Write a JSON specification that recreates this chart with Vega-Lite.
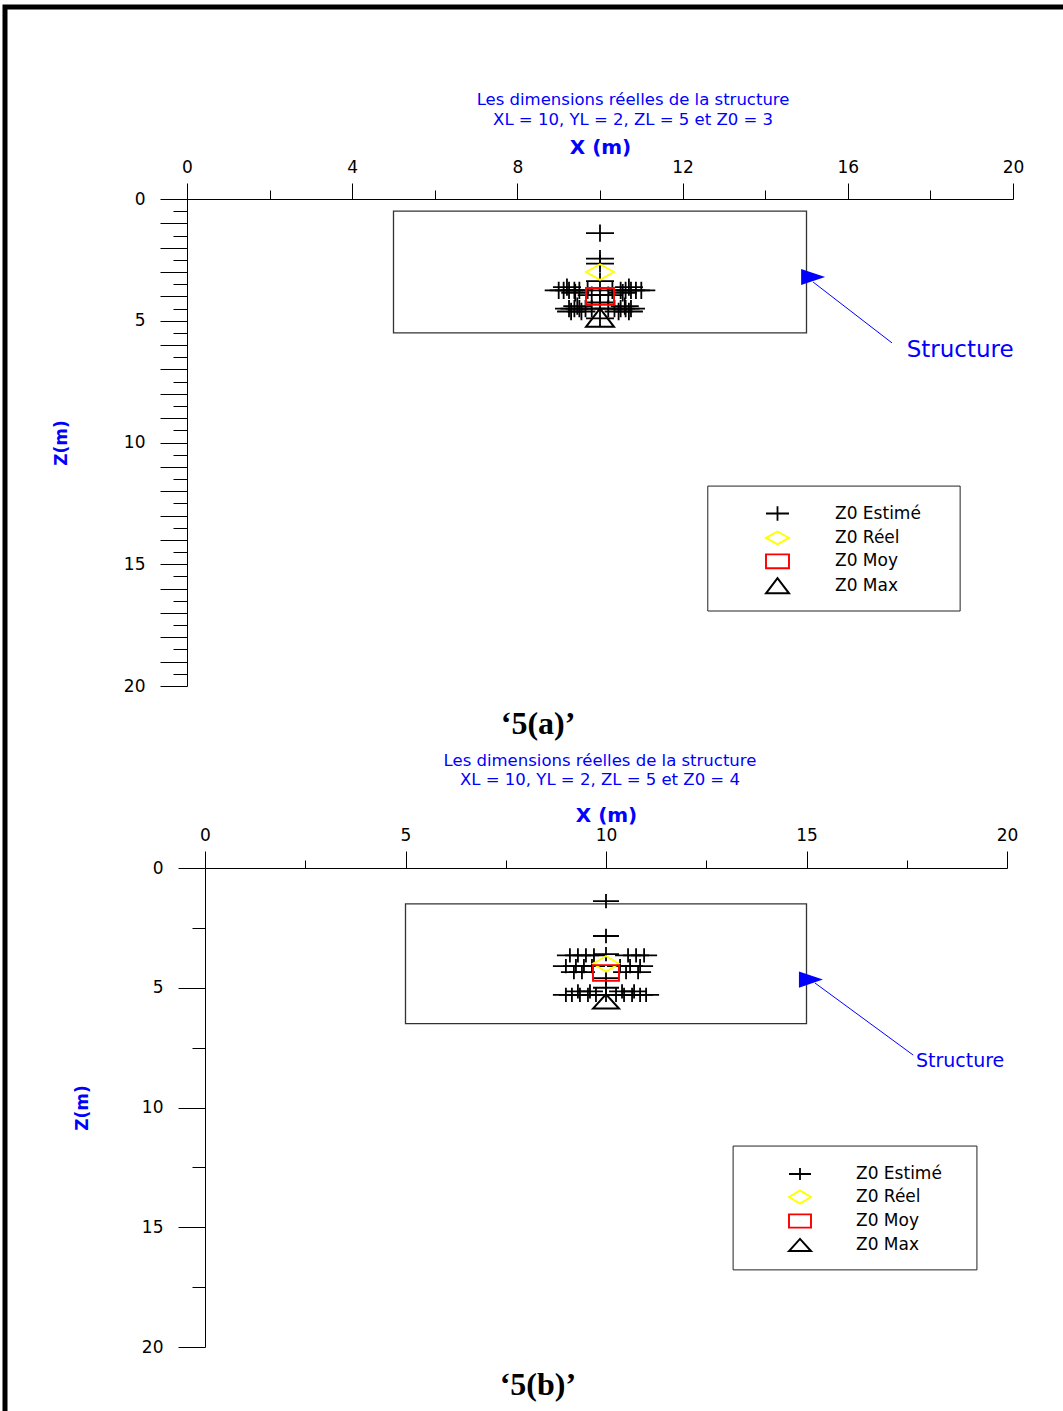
{
"$schema": "https://vega.github.io/schema/vega-lite/v6.json",
"width": 1058,
"height": 1404,
"autosize": {"type": "none"},
"padding": {"left": 5, "top": 7, "right": 0, "bottom": 0},
"background": "white",
"config": {
  "view": {"stroke": "black", "strokeWidth": 5, "strokeDash": [1058, 2462, 1404]},
  "axis": {"grid": false, "domainColor": "black", "tickColor": "black", "labelColor": "black", "labelFont": "DejaVu Sans", "titleFont": "DejaVu Sans", "labelFlush": false, "labelOverlap": false},
  "text": {"font": "DejaVu Sans"}
},
"datasets": {
  "a_struct": [{"x": 5, "x2": 15, "z": 0.5, "z2": 5.5}],
  "b_struct": [{"x": 5, "x2": 15, "z": 1.5, "z2": 6.5}],
  "a_pts": [
    {"serie": "Z0 Estimé", "x": 10, "z": 1.4},
    {"serie": "Z0 Estimé", "x": 10, "z": 2.45},
    {"serie": "Z0 Estimé", "x": 10, "z": 2.65},
    {"serie": "Z0 Estimé", "x": 10, "z": 3.37},
    {"serie": "Z0 Estimé", "x": 10, "z": 3.95},
    {"serie": "Z0 Estimé", "x": 10, "z": 4.25},
    {"serie": "Z0 Estimé", "x": 10, "z": 4.9},
    {"serie": "Z0 Estimé", "x": 9.0, "z": 3.75},
    {"serie": "Z0 Estimé", "x": 9.12, "z": 3.75},
    {"serie": "Z0 Estimé", "x": 9.25, "z": 3.75},
    {"serie": "Z0 Estimé", "x": 9.38, "z": 3.75},
    {"serie": "Z0 Estimé", "x": 9.5, "z": 3.75},
    {"serie": "Z0 Estimé", "x": 9.7, "z": 3.75},
    {"serie": "Z0 Estimé", "x": 10.3, "z": 3.75},
    {"serie": "Z0 Estimé", "x": 10.5, "z": 3.75},
    {"serie": "Z0 Estimé", "x": 10.62, "z": 3.75},
    {"serie": "Z0 Estimé", "x": 10.75, "z": 3.75},
    {"serie": "Z0 Estimé", "x": 10.87, "z": 3.75},
    {"serie": "Z0 Estimé", "x": 11.0, "z": 3.75},
    {"serie": "Z0 Estimé", "x": 9.2, "z": 3.62},
    {"serie": "Z0 Estimé", "x": 10.7, "z": 3.62},
    {"serie": "Z0 Estimé", "x": 9.4, "z": 3.85},
    {"serie": "Z0 Estimé", "x": 10.55, "z": 3.85},
    {"serie": "Z0 Estimé", "x": 9.8, "z": 3.95},
    {"serie": "Z0 Estimé", "x": 10.2, "z": 3.95},
    {"serie": "Z0 Estimé", "x": 9.25, "z": 4.5},
    {"serie": "Z0 Estimé", "x": 9.38, "z": 4.5},
    {"serie": "Z0 Estimé", "x": 9.5, "z": 4.5},
    {"serie": "Z0 Estimé", "x": 9.65, "z": 4.5},
    {"serie": "Z0 Estimé", "x": 9.8, "z": 4.5},
    {"serie": "Z0 Estimé", "x": 10.2, "z": 4.5},
    {"serie": "Z0 Estimé", "x": 10.35, "z": 4.5},
    {"serie": "Z0 Estimé", "x": 10.5, "z": 4.5},
    {"serie": "Z0 Estimé", "x": 10.62, "z": 4.5},
    {"serie": "Z0 Estimé", "x": 10.75, "z": 4.5},
    {"serie": "Z0 Estimé", "x": 9.3, "z": 4.62},
    {"serie": "Z0 Estimé", "x": 9.55, "z": 4.62},
    {"serie": "Z0 Estimé", "x": 10.45, "z": 4.62},
    {"serie": "Z0 Estimé", "x": 10.7, "z": 4.62},
    {"serie": "Z0 Estimé", "x": 9.45, "z": 4.4},
    {"serie": "Z0 Estimé", "x": 10.6, "z": 4.4},
    {"serie": "Z0 Réel", "x": 10, "z": 3.0},
    {"serie": "Z0 Moy", "x": 10, "z": 4.0},
    {"serie": "Z0 Max", "x": 10, "z": 4.87}
  ],
  "b_pts": [
    {"serie": "Z0 Estimé", "x": 10, "z": 1.38},
    {"serie": "Z0 Estimé", "x": 10, "z": 2.84},
    {"serie": "Z0 Estimé", "x": 10, "z": 3.6},
    {"serie": "Z0 Estimé", "x": 10, "z": 4.6},
    {"serie": "Z0 Estimé", "x": 10, "z": 5.0},
    {"serie": "Z0 Estimé", "x": 10, "z": 5.3},
    {"serie": "Z0 Estimé", "x": 9.1, "z": 3.65},
    {"serie": "Z0 Estimé", "x": 9.3, "z": 3.65},
    {"serie": "Z0 Estimé", "x": 9.5, "z": 3.65},
    {"serie": "Z0 Estimé", "x": 9.7, "z": 3.65},
    {"serie": "Z0 Estimé", "x": 10.55, "z": 3.65},
    {"serie": "Z0 Estimé", "x": 10.75, "z": 3.65},
    {"serie": "Z0 Estimé", "x": 10.95, "z": 3.65},
    {"serie": "Z0 Estimé", "x": 9.0, "z": 4.1},
    {"serie": "Z0 Estimé", "x": 9.25, "z": 4.1},
    {"serie": "Z0 Estimé", "x": 9.45, "z": 4.1},
    {"serie": "Z0 Estimé", "x": 9.65, "z": 4.1},
    {"serie": "Z0 Estimé", "x": 10.35, "z": 4.1},
    {"serie": "Z0 Estimé", "x": 10.6, "z": 4.1},
    {"serie": "Z0 Estimé", "x": 10.85, "z": 4.1},
    {"serie": "Z0 Estimé", "x": 9.2, "z": 4.35},
    {"serie": "Z0 Estimé", "x": 9.4, "z": 4.35},
    {"serie": "Z0 Estimé", "x": 10.5, "z": 4.35},
    {"serie": "Z0 Estimé", "x": 10.8, "z": 4.35},
    {"serie": "Z0 Estimé", "x": 9.0, "z": 5.3},
    {"serie": "Z0 Estimé", "x": 9.15, "z": 5.3},
    {"serie": "Z0 Estimé", "x": 9.35, "z": 5.3},
    {"serie": "Z0 Estimé", "x": 9.55, "z": 5.3},
    {"serie": "Z0 Estimé", "x": 9.75, "z": 5.3},
    {"serie": "Z0 Estimé", "x": 10.25, "z": 5.3},
    {"serie": "Z0 Estimé", "x": 10.45, "z": 5.3},
    {"serie": "Z0 Estimé", "x": 10.65, "z": 5.3},
    {"serie": "Z0 Estimé", "x": 10.85, "z": 5.3},
    {"serie": "Z0 Estimé", "x": 11.0, "z": 5.3},
    {"serie": "Z0 Estimé", "x": 9.3, "z": 5.15},
    {"serie": "Z0 Estimé", "x": 9.6, "z": 5.15},
    {"serie": "Z0 Estimé", "x": 10.4, "z": 5.15},
    {"serie": "Z0 Estimé", "x": 10.7, "z": 5.15},
    {"serie": "Z0 Réel", "x": 10, "z": 4.0},
    {"serie": "Z0 Moy", "x": 10, "z": 4.38},
    {"serie": "Z0 Max", "x": 10, "z": 5.57}
  ]
},
"layer": [
  {
    "layer": [
      {
        "data": {"name": "a_struct"},
        "mark": {"type": "rect", "fillOpacity": 0, "stroke": "#333333", "strokeWidth": 1.3},
        "encoding": {
          "x": {"field": "x", "type": "quantitative", "scale": {"domain": [0, 20], "range": [182, 1008], "nice": false, "zero": false},
            "axis": {"orient": "top", "offset": -192, "values": [0, 2, 4, 6, 8, 10, 12, 14, 16, 18, 20], "tickCount": 100,
              "tickSize": {"condition": {"test": "datum.value % 4 === 0", "value": 16}, "value": 9},
              "labelExpr": "datum.value % 4 === 0 ? datum.label : ''", "format": "d",
              "labelFontSize": 17, "labelPadding": 7,
              "title": "X (m)", "titleFontSize": 20, "titleFontWeight": "bold", "titleColor": "#0000ff", "titlePadding": 1}},
          "x2": {"field": "x2"},
          "y": {"field": "z", "type": "quantitative", "scale": {"domain": [0, 20], "range": [192, 679], "nice": false, "zero": false},
            "axis": {"orient": "left", "offset": -182, "tickCount": 100,
              "values": [0, 0.5, 1, 1.5, 2, 2.5, 3, 3.5, 4, 4.5, 5, 5.5, 6, 6.5, 7, 7.5, 8, 8.5, 9, 9.5, 10, 10.5, 11, 11.5, 12, 12.5, 13, 13.5, 14, 14.5, 15, 15.5, 16, 16.5, 17, 17.5, 18, 18.5, 19, 19.5, 20],
              "tickSize": {"condition": {"test": "datum.value % 1 === 0", "value": 27}, "value": 14},
              "format": ".1f",
              "labelExpr": "datum.value % 5 === 0 ? format(datum.value, 'd') : ''",
              "labelFontSize": 17, "labelPadding": 15,
              "title": "Z(m)", "titleFontSize": 17, "titleFontWeight": "bold", "titleColor": "#0000ff", "titlePadding": 53}},
          "y2": {"field": "z2"}
        }
      },
      {
        "data": {"values": [{}]},
        "mark": {"type": "rect", "fillOpacity": 0, "stroke": "#222222", "strokeWidth": 1},
        "encoding": {"x": {"datum": 12.61, "type": "quantitative"}, "x2": {"datum": 18.72}, "y": {"datum": 11.79, "type": "quantitative"}, "y2": {"datum": 16.92}}
      },
      {
        "data": {"values": [{}]},
        "mark": {"type": "rule", "color": "#0000ff", "strokeWidth": 1},
        "encoding": {"x": {"datum": 15.16, "type": "quantitative"}, "y": {"datum": 3.41, "type": "quantitative"}, "x2": {"datum": 17.07}, "y2": {"datum": 5.91}}
      },
      {
        "data": {"values": [{}]},
        "mark": {"type": "point", "shape": "M-1,-0.67L1,0L-1,0.67Z", "filled": true, "color": "#0000ff", "opacity": 1, "size": 576},
        "encoding": {"x": {"datum": 15.16, "type": "quantitative"}, "y": {"datum": 3.2, "type": "quantitative"}}
      },
      {
        "data": {"name": "a_pts"},
        "mark": {"type": "point", "filled": false, "opacity": 1, "size": 784},
        "encoding": {
          "x": {"field": "x", "type": "quantitative"},
          "y": {"field": "z", "type": "quantitative"},
          "shape": {"field": "serie", "type": "nominal",
            "scale": {"domain": ["Z0 Estimé", "Z0 Réel", "Z0 Moy", "Z0 Max"], "range": ["M-1,0H1M0,-0.62V0.62", "M-1,0L0,-0.56L1,0L0,0.56Z", "M-1,-0.6H1V0.6H-1Z", "M-1,0.66L0,-0.66L1,0.66Z"]},
            "legend": {"title": null, "orient": "none", "legendX": 703, "legendY": 479, "direction": "vertical", "padding": 15, "symbolOffset": 42, "labelOffset": 45, "rowPadding": 0.4, "symbolSize": 529, "symbolStrokeWidth": 1.5, "labelFontSize": 17, "labelFont": "DejaVu Sans", "labelColor": "black"}},
          "color": {"field": "serie", "type": "nominal",
            "scale": {"domain": ["Z0 Estimé", "Z0 Réel", "Z0 Moy", "Z0 Max"], "range": ["#000000", "#ffff00", "#ff0000", "#000000"]},
            "legend": {"title": null, "orient": "none", "legendX": 703, "legendY": 479, "direction": "vertical", "padding": 15, "symbolOffset": 42, "labelOffset": 45, "rowPadding": 0.4, "symbolSize": 529, "symbolStrokeWidth": 1.5, "labelFontSize": 17, "labelFont": "DejaVu Sans", "labelColor": "black"}},
          "strokeWidth": {"field": "serie", "type": "ordinal", "scale": {"domain": ["Z0 Estimé", "Z0 Réel", "Z0 Moy", "Z0 Max"], "range": [1.8, 2, 2.5, 2.5]}, "legend": null}
        }
      },
      {
        "data": {"values": [{}]},
        "mark": {"type": "text", "text": ["Les dimensions réelles de la structure", "XL = 10, YL = 2, ZL = 5 et Z0 = 3"], "fontSize": 16.5, "lineHeight": 19.3, "color": "#0000ff", "align": "center", "baseline": "middle"},
        "encoding": {"x": {"datum": 10.8, "type": "quantitative"}, "y": {"datum": -4.05, "type": "quantitative"}}
      },
      {
        "data": {"values": [{}]},
        "mark": {"type": "text", "text": "Structure", "fontSize": 23, "color": "#0000ff", "align": "center", "baseline": "middle"},
        "encoding": {"x": {"datum": 18.72, "type": "quantitative"}, "y": {"datum": 6.2, "type": "quantitative"}}
      },
      {
        "data": {"values": [{}]},
        "mark": {"type": "text", "text": "‘5(a)’", "font": "Liberation Serif", "fontWeight": "bold", "fontSize": 32, "color": "black", "align": "center", "baseline": "middle"},
        "encoding": {"x": {"datum": 8.5, "type": "quantitative"}, "y": {"datum": 21.56, "type": "quantitative"}}
      }
    ]
  },
  {
    "layer": [
      {
        "data": {"name": "b_struct"},
        "mark": {"type": "rect", "fillOpacity": 0, "stroke": "#333333", "strokeWidth": 1.3},
        "encoding": {
          "x": {"field": "x", "type": "quantitative", "scale": {"domain": [0, 20], "range": [200, 1002], "nice": false, "zero": false},
            "axis": {"orient": "top", "offset": -861, "values": [0, 2.5, 5, 7.5, 10, 12.5, 15, 17.5, 20], "tickCount": 100,
              "tickSize": {"condition": {"test": "datum.value % 5 === 0", "value": 17}, "value": 8},
              "format": ".1f",
              "labelExpr": "datum.value % 5 === 0 ? format(datum.value, 'd') : ''",
              "labelFontSize": 17, "labelPadding": 7,
              "title": "X (m)", "titleFontSize": 20, "titleFontWeight": "bold", "titleColor": "#0000ff", "titlePadding": 1}},
          "x2": {"field": "x2"},
          "y": {"field": "z", "type": "quantitative", "scale": {"domain": [0, 20], "range": [861, 1340], "nice": false, "zero": false},
            "axis": {"orient": "left", "offset": -200, "values": [0, 2.5, 5, 7.5, 10, 12.5, 15, 17.5, 20], "tickCount": 100,
              "tickSize": {"condition": {"test": "datum.value % 5 === 0", "value": 27}, "value": 13},
              "format": ".1f",
              "labelExpr": "datum.value % 5 === 0 ? format(datum.value, 'd') : ''",
              "labelFontSize": 17, "labelPadding": 15,
              "title": "Z(m)", "titleFontSize": 17, "titleFontWeight": "bold", "titleColor": "#0000ff", "titlePadding": 50}},
          "y2": {"field": "z2"}
        }
      },
      {
        "data": {"values": [{}]},
        "mark": {"type": "rect", "fillOpacity": 0, "stroke": "#222222", "strokeWidth": 1},
        "encoding": {"x": {"datum": 13.17, "type": "quantitative"}, "x2": {"datum": 19.25}, "y": {"datum": 11.61, "type": "quantitative"}, "y2": {"datum": 16.78}}
      },
      {
        "data": {"values": [{}]},
        "mark": {"type": "rule", "color": "#0000ff", "strokeWidth": 1},
        "encoding": {"x": {"datum": 15.21, "type": "quantitative"}, "y": {"datum": 4.8, "type": "quantitative"}, "x2": {"datum": 17.66}, "y2": {"datum": 7.81}}
      },
      {
        "data": {"values": [{}]},
        "mark": {"type": "point", "shape": "M-1,-0.67L1,0L-1,0.67Z", "filled": true, "color": "#0000ff", "opacity": 1, "size": 576},
        "encoding": {"x": {"datum": 15.11, "type": "quantitative"}, "y": {"datum": 4.66, "type": "quantitative"}}
      },
      {
        "data": {"name": "b_pts"},
        "mark": {"type": "point", "filled": false, "opacity": 1, "size": 676},
        "encoding": {
          "x": {"field": "x", "type": "quantitative"},
          "y": {"field": "z", "type": "quantitative"},
          "shape": {"field": "serie", "type": "nominal",
            "scale": {"domain": ["Z0 Estimé", "Z0 Réel", "Z0 Moy", "Z0 Max"], "range": ["M-1,0H1M0,-0.55V0.55", "M-1,0L0,-0.6L1,0L0,0.6Z", "M-1,-0.6H1V0.6H-1Z", "M-1,0.55L0,-0.55L1,0.55Z"]},
            "legend": {"title": null, "orient": "none", "legendX": 728, "legendY": 1139, "direction": "vertical", "padding": 16, "symbolOffset": 39, "labelOffset": 44, "rowPadding": 1, "symbolSize": 484, "symbolStrokeWidth": 1.5, "labelFontSize": 17, "labelFont": "DejaVu Sans", "labelColor": "black"}},
          "color": {"field": "serie", "type": "nominal",
            "scale": {"domain": ["Z0 Estimé", "Z0 Réel", "Z0 Moy", "Z0 Max"], "range": ["#000000", "#ffff00", "#ff0000", "#000000"]},
            "legend": {"title": null, "orient": "none", "legendX": 728, "legendY": 1139, "direction": "vertical", "padding": 16, "symbolOffset": 39, "labelOffset": 44, "rowPadding": 1, "symbolSize": 484, "symbolStrokeWidth": 1.5, "labelFontSize": 17, "labelFont": "DejaVu Sans", "labelColor": "black"}},
          "strokeWidth": {"field": "serie", "type": "ordinal", "scale": {"domain": ["Z0 Estimé", "Z0 Réel", "Z0 Moy", "Z0 Max"], "range": [1.8, 2, 2.5, 2.5]}, "legend": null}
        }
      },
      {
        "data": {"values": [{}]},
        "mark": {"type": "text", "text": ["Les dimensions réelles de la structure", "XL = 10, YL = 2, ZL = 5 et Z0 = 4"], "fontSize": 16.5, "lineHeight": 19.3, "color": "#0000ff", "align": "center", "baseline": "middle"},
        "encoding": {"x": {"datum": 9.85, "type": "quantitative"}, "y": {"datum": -4.47, "type": "quantitative"}}
      },
      {
        "data": {"values": [{}]},
        "mark": {"type": "text", "text": "Structure", "fontSize": 19, "color": "#0000ff", "align": "center", "baseline": "middle"},
        "encoding": {"x": {"datum": 18.83, "type": "quantitative"}, "y": {"datum": 8.06, "type": "quantitative"}}
      },
      {
        "data": {"values": [{}]},
        "mark": {"type": "text", "text": "‘5(b)’", "font": "Liberation Serif", "fontWeight": "bold", "fontSize": 32, "color": "black", "align": "center", "baseline": "middle"},
        "encoding": {"x": {"datum": 8.3, "type": "quantitative"}, "y": {"datum": 21.59, "type": "quantitative"}}
      }
    ]
  }
],
"resolve": {
  "scale": {"x": "independent", "y": "independent", "color": "independent", "shape": "independent", "strokeWidth": "independent"},
  "axis": {"x": "independent", "y": "independent"},
  "legend": {"color": "independent", "shape": "independent", "strokeWidth": "independent"}
}
}
